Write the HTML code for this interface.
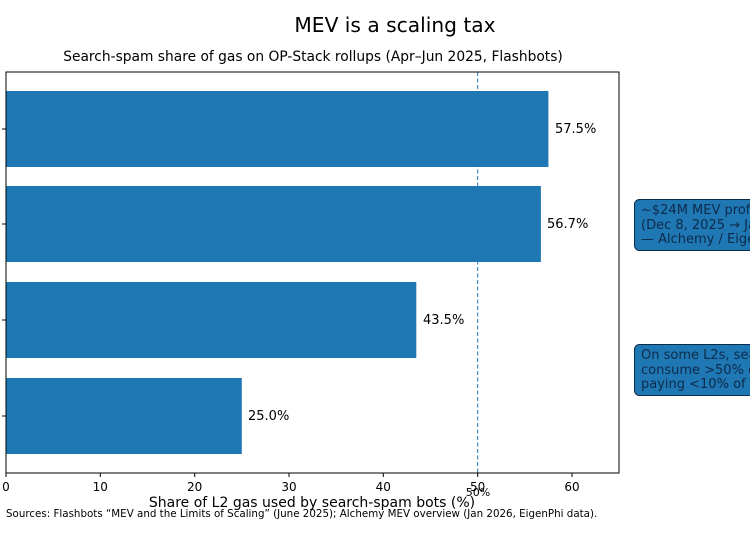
<!DOCTYPE html>
<html><head><meta charset="utf-8"><style>
body{margin:0;background:#fff;}
svg{display:block;font-family:"DejaVu Sans","Liberation Sans",sans-serif;}
</style></head><body>
<svg width="750" height="536" viewBox="0 0 750 536" xmlns="http://www.w3.org/2000/svg">
<rect width="750" height="536" fill="#fff"/>
<text x="395" y="32" font-size="20.2" text-anchor="middle" fill="#000">MEV is a scaling tax</text>
<text x="313" y="61" font-size="13.8" text-anchor="middle" fill="#000">Search-spam share of gas on OP-Stack rollups (Apr–Jun 2025, Flashbots)</text>
<g fill="#1f77b4">
<rect x="6" y="91" width="542.4" height="76"/>
<rect x="6" y="186" width="534.9" height="76"/>
<rect x="6" y="282" width="410.3" height="76"/>
<rect x="6" y="378" width="235.8" height="76"/>
</g>
<line x1="477.7" y1="72" x2="477.7" y2="473" stroke="#1f77b4" stroke-width="1" stroke-dasharray="4,2.5"/>
<rect x="6" y="72" width="613" height="401" fill="none" stroke="#000" stroke-width="1"/>
<g font-size="13" fill="#000">
<text x="555" y="133">57.5%</text>
<text x="547" y="228">56.7%</text>
<text x="423" y="324">43.5%</text>
<text x="248" y="420">25.0%</text>
</g>
<g stroke="#000" stroke-width="1">
<line x1="6" y1="473" x2="6" y2="477"/><line x1="100.3" y1="473" x2="100.3" y2="477"/>
<line x1="194.7" y1="473" x2="194.7" y2="477"/><line x1="289" y1="473" x2="289" y2="477"/>
<line x1="383.3" y1="473" x2="383.3" y2="477"/><line x1="477.7" y1="473" x2="477.7" y2="477"/>
<line x1="572" y1="473" x2="572" y2="477"/>
<line x1="2" y1="129" x2="6" y2="129"/><line x1="2" y1="224" x2="6" y2="224"/>
<line x1="2" y1="320" x2="6" y2="320"/><line x1="2" y1="416" x2="6" y2="416"/>
</g>
<g font-size="12" fill="#000" text-anchor="middle">
<text x="6" y="491">0</text><text x="100.3" y="491">10</text><text x="194.7" y="491">20</text>
<text x="289" y="491">30</text><text x="383.3" y="491">40</text><text x="477.7" y="491">50</text>
<text x="572" y="491">60</text>
<text x="478" y="496" font-size="11">50%</text>
</g>
<text x="312" y="507" font-size="14" text-anchor="middle" fill="#000">Share of L2 gas used by search-spam bots (%)</text>
<text x="6" y="517" font-size="10.3" fill="#000">Sources: Flashbots “MEV and the Limits of Scaling” (June 2025); Alchemy MEV overview (Jan 2026, EigenPhi data).</text>
<rect x="634.5" y="199.5" width="130" height="51" rx="5" fill="#1f77b4" stroke="#0d2b4a" stroke-width="1"/>
<g font-size="13" fill="#0d2b4a">
<text x="641" y="214">~$24M MEV profit</text>
<text x="641" y="229">(Dec 8, 2025 → Jan</text>
<text x="641" y="243">— Alchemy / EigenPhi</text>
</g>
<rect x="634.5" y="344.5" width="130" height="51" rx="5" fill="#1f77b4" stroke="#0d2b4a" stroke-width="1"/>
<g font-size="13" fill="#0d2b4a">
<text x="641" y="359">On some L2s, search</text>
<text x="641" y="374">consume &gt;50% of gas</text>
<text x="641" y="388">paying &lt;10% of fees</text>
</g>
</svg>
</body></html>
